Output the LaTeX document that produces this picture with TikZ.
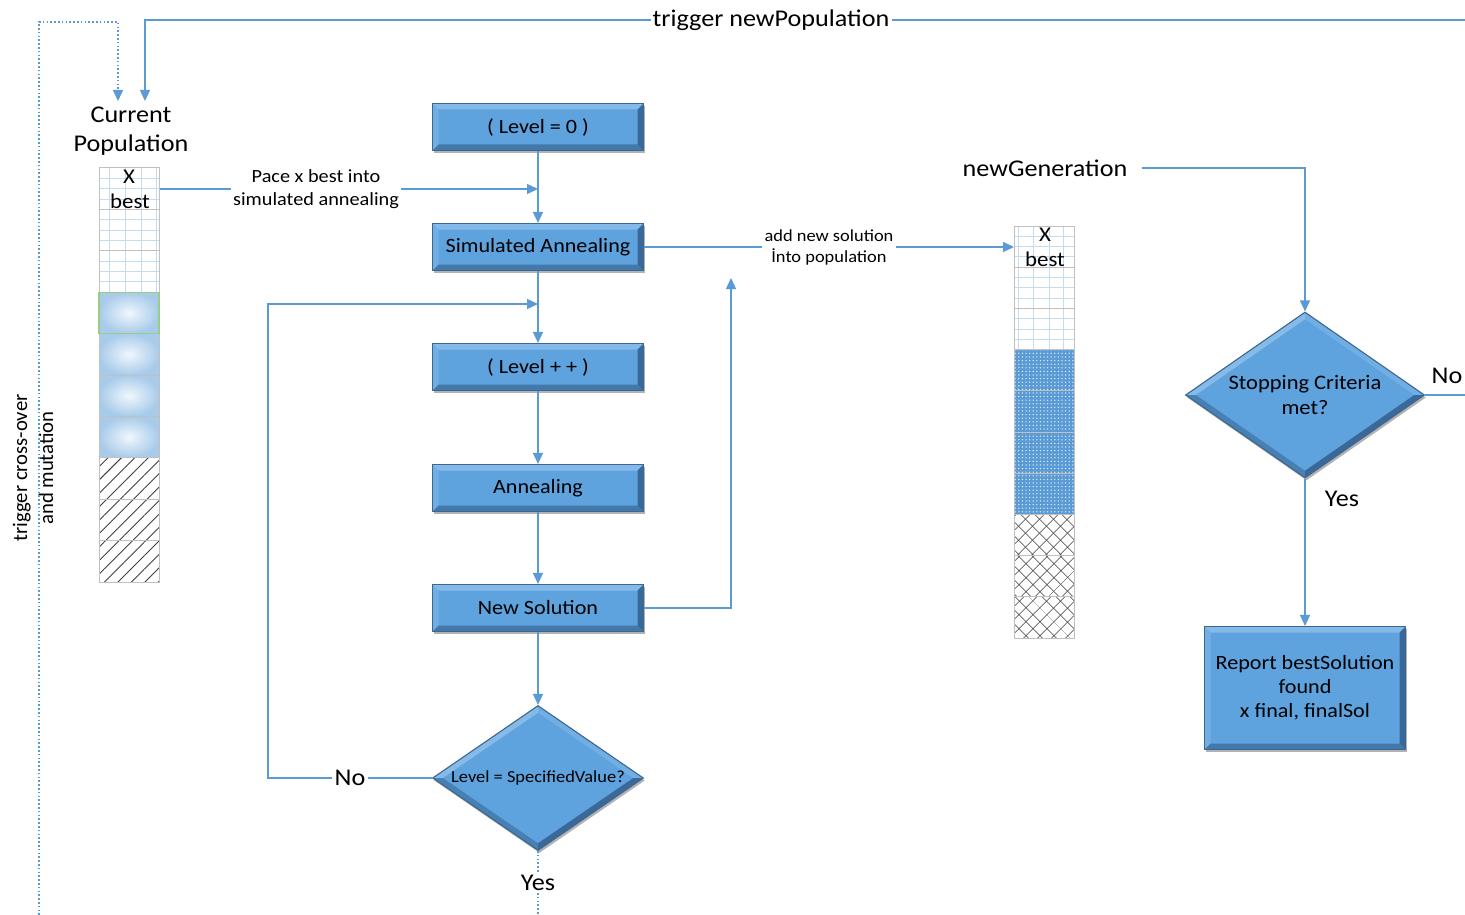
\documentclass[tikz,border=0pt]{standalone}
\usepackage{fontspec}
\setmainfont{Carlito}[FakeStretch=1.09]
\newfontfamily\plainfont{Carlito}
\usetikzlibrary{shapes.geometric,arrows.meta,patterns.meta,shadows}
\definecolor{boxblue}{HTML}{5EA2DE}
\definecolor{lineblue}{HTML}{5B9BD5}
\definecolor{gridblue}{HTML}{C5DCF0}
\definecolor{cellgray}{HTML}{C0C0C0}
\definecolor{edgedark}{HTML}{3C6791}
\definecolor{bevdark}{HTML}{2E5782}
\definecolor{bevlight}{HTML}{8EC0EC}
\definecolor{shadeout}{HTML}{A8CBEA}
\definecolor{shadein}{HTML}{F0F7FD}
\definecolor{greenedge}{HTML}{9CCB86}
\tikzset{
  conn/.style={draw=lineblue, line width=1.4pt, -{Triangle[length=11pt,width=10pt]}},
  plain/.style={draw=lineblue, line width=1.4pt},
  dotline/.style={draw=lineblue, line width=1.6pt, dash pattern=on 1.6pt off 2.2pt},
  boxbevel/.style={path picture={
    \coordinate (bNE) at (path picture bounding box.north east);
    \coordinate (bSE) at (path picture bounding box.south east);
    \coordinate (bNW) at (path picture bounding box.north west);
    \coordinate (bSW) at (path picture bounding box.south west);
    \fill[bevlight, opacity=0.8] (bNW) -- (bNE) -- ([shift={(-6pt,-6pt)}]bNE) -- ([shift={(6pt,-6pt)}]bNW) -- cycle;
    \fill[bevlight, opacity=0.4] (bNW) -- (bSW) -- ([shift={(6pt,6pt)}]bSW) -- ([shift={(6pt,-6pt)}]bNW) -- cycle;
    \fill[bevdark, opacity=0.75] (bNE) -- (bSE) -- ([shift={(-6pt,6pt)}]bSE) -- ([shift={(-6pt,-6pt)}]bNE) -- cycle;
    \fill[bevdark, opacity=0.55] (bSW) -- (bSE) -- ([shift={(-6pt,6pt)}]bSE) -- ([shift={(6pt,6pt)}]bSW) -- cycle;
  }},
  diabevel/.style={path picture={
    \coordinate (dN) at (path picture bounding box.north);
    \coordinate (dS) at (path picture bounding box.south);
    \coordinate (dW) at (path picture bounding box.west);
    \coordinate (dE) at (path picture bounding box.east);
    \fill[bevlight, opacity=0.85] (dW) -- (dN) -- ([shift={(0pt,-7pt)}]dN) -- ([shift={(10pt,0pt)}]dW) -- cycle;
    \fill[bevlight, opacity=0.4] (dN) -- (dE) -- ([shift={(-10pt,0pt)}]dE) -- ([shift={(0pt,-7pt)}]dN) -- cycle;
    \fill[bevdark, opacity=0.75] (dE) -- (dS) -- ([shift={(0pt,7pt)}]dS) -- ([shift={(-10pt,0pt)}]dE) -- cycle;
    \fill[bevdark, opacity=0.45] (dW) -- (dS) -- ([shift={(0pt,7pt)}]dS) -- ([shift={(10pt,0pt)}]dW) -- cycle;
  }},
  procbox/.style={rectangle, fill=boxblue, draw=edgedark, line width=1.1pt,
    minimum width=211pt, minimum height=47pt, inner sep=0pt,
    font=\fontsize{20.3}{24}\selectfont, align=center, boxbevel,
    drop shadow={shadow xshift=1.5pt, shadow yshift=-2.5pt, opacity=0.3, fill=black}},
  decbox/.style={diamond, fill=boxblue, draw=edgedark, line width=1.1pt, inner sep=0pt,
    align=center, diabevel,
    drop shadow={shadow xshift=1.5pt, shadow yshift=-2.5pt, opacity=0.3, fill=black}},
  lbl/.style={fill=white, inner sep=2pt, align=center},
  bigtxt/.style={font=\fontsize{24}{29}\selectfont, align=center, inner sep=1pt},
  medtxt/.style={font=\fontsize{24}{28}\selectfont, inner sep=2pt},
  celltxt/.style={font=\fontsize{21}{24}\selectfont, inner sep=0pt},
}
\begin{document}
\begin{tikzpicture}[x=1pt,y=-1pt]
\useasboundingbox[fill=white] (0,0) rectangle (1465,915);

% ---------- left population column ----------
\fill[white] (99,168) rectangle (159,292);
\foreach \xx in {109,125,141,156} \draw[gridblue,line width=1pt] (\xx,168) -- (\xx,292);
\foreach \k in {1,...,11} \draw[gridblue,line width=1pt] (99,168+\k*10.35) -- (159,168+\k*10.35);
\foreach \i in {3,4,5,6} {
  \shade[inner color=shadein, outer color=shadeout] (99,168+\i*41.4) rectangle (159,168+\i*41.4+41.4);
}
\foreach \i in {7,8,9} {
  \fill[white] (99,168+\i*41.4) rectangle (159,168+\i*41.4+41.4);
  \fill[pattern={Lines[angle=45,distance=9.5pt,line width=0.9pt]}, pattern color=black!75]
     (99,168+\i*41.4) rectangle (159,168+\i*41.4+41.4);
}
\foreach \i in {0,...,9} \draw[cellgray,line width=1pt] (99,168+\i*41.4) rectangle (159,168+\i*41.4+41.4);
\draw[greenedge,line width=1.2pt] (99,292.2) rectangle (159,333.6);
\node[celltxt] (px) at (129,177) {X};
\node[celltxt] (pbest) at (130,201) {best};
\coordinate (pophead) at (160,189);

% ---------- right population column ----------
\fill[white] (1014,226) rectangle (1074,349.6);
\foreach \xx in {1018,1033,1049,1063} \draw[gridblue,line width=1pt] (\xx,226) -- (\xx,349.6);
\foreach \k in {1,...,11} \draw[gridblue,line width=1pt] (1014,226+\k*10.3) -- (1074,226+\k*10.3);
\foreach \i in {3,4,5,6} {
  \fill[lineblue] (1014,226+\i*41.2) rectangle (1074,226+\i*41.2+41.2);
  \fill[pattern={Dots[radius=0.75pt,distance=3.6pt]}, pattern color=white!80!lineblue]
     (1014,226+\i*41.2) rectangle (1074,226+\i*41.2+41.2);
}
\foreach \i in {7,8,9} {
  \fill[white] (1014,226+\i*41.2) rectangle (1074,226+\i*41.2+41.2);
  \fill[pattern={Lines[angle=45,distance=10.5pt,line width=0.9pt]}, pattern color=black!75]
     (1014,226+\i*41.2) rectangle (1074,226+\i*41.2+41.2);
  \fill[pattern={Lines[angle=-45,distance=10.5pt,line width=0.9pt]}, pattern color=black!75]
     (1014,226+\i*41.2) rectangle (1074,226+\i*41.2+41.2);
}
\foreach \i in {0,...,9} \draw[cellgray,line width=1pt] (1014,226+\i*41.2) rectangle (1074,226+\i*41.2+41.2);
\node[celltxt] (qx) at (1045,235) {X};
\node[celltxt] (qbest) at (1045,259) {best};
\coordinate (pop2head) at (1014,247);

% ---------- texts ----------
\node[bigtxt] (curpop) at (131,131) {Current\\Population};
\node[bigtxt, inner xsep=14pt] (newgen) at (1045,168) {newGeneration};
\node[rotate=90, font=\plainfont\fontsize{20.7}{26}\selectfont, align=center, inner sep=0pt] (xover) at (33,468) {trigger cross-over\\and mutation};

% ---------- process boxes ----------
\node[procbox] (l0) at (538,127) {( Level = 0 )};
\node[procbox] (sa) at (538,247) {Simulated Annealing};
\node[procbox] (lpp) at (538,367) {( Level + + )};
\node[procbox] (ann) at (538,488) {Annealing};
\node[procbox] (ns) at (538,608) {New Solution};
\node[decbox, minimum width=211pt, minimum height=145pt, aspect=1.455,
      font=\fontsize{16.9}{19}\selectfont] (lsv) at (538,778) {Level = SpecifiedValue?};
\node[decbox, minimum width=239pt, minimum height=166pt, aspect=1.44,
      font=\fontsize{20.6}{25}\selectfont] (sc) at (1305,395) {Stopping Criteria\\met?};
\node[procbox, minimum width=201pt, minimum height=123pt] (rep) at (1305,688) {Report bestSolution\\found\\x final, finalSol};

% ---------- top connectors ----------
\node[lbl, font=\fontsize{24}{28}\selectfont] (trig) at (771,20) {trigger newPopulation};
\coordinate (topRight) at (1465,20);
\coordinate (cpIn) at (145,101);
\draw[plain] (topRight) -- (trig);
\draw[conn] (trig) -| (cpIn);
\coordinate (dotBottom) at (39,915);
\coordinate (dotCorner) at (39,22);
\coordinate (cpIn2) at (118,101);
\draw[dotline, -{Triangle[length=11pt,width=10pt]}] (dotBottom) -- (dotCorner) -| (cpIn2);

% ---------- middle connectors ----------
\node[lbl, font=\fontsize{18.6}{23}\selectfont] (pace) at (316,189) {Pace x best into\\simulated annealing};
\coordinate (paceEnd) at (538,189);
\draw[plain] (pophead) -- (pace);
\draw[conn] (pace) -- (paceEnd);
\draw[conn] (l0) -- (sa);
\node[lbl, font=\fontsize{16.9}{21}\selectfont] (addsol) at (829,247) {add new solution\\İnto population};
\draw[plain] (sa) -- (addsol);
\draw[conn] (addsol) -- (pop2head);
\draw[conn] (sa) -- (lpp);
\draw[conn] (lpp) -- (ann);
\draw[conn] (ann) -- (ns);
\draw[conn] (ns) -- (lsv);
\coordinate (upEnd) at (731,278);
\draw[conn] (ns.east) -| (upEnd);
\node[medtxt, fill=white] (no1) at (350,778) {No};
\coordinate (loopCorner) at (268,778);
\coordinate (loopEnd) at (538,304);
\draw[plain] (lsv) -- (no1);
\draw[conn] (no1) -- (loopCorner) |- (loopEnd);
\node[medtxt, fill=white] (yes1) at (538,883) {Yes};
\coordinate (bottomEnd) at (538,915);
\draw[dotline] (lsv.south) -- (yes1);
\draw[dotline] (yes1) -- (bottomEnd);

% ---------- right connectors ----------
\draw[conn] (newgen.east) -| (sc.north);
\coordinate (scRight) at (1465,395);
\draw[plain] (sc.east) -- (scRight);
\node[medtxt] (no2) at (1447,376) {No};
\draw[conn] (sc) -- (rep);
\node[medtxt] (yes2) at (1342,499) {Yes};
\end{tikzpicture}
\end{document}
